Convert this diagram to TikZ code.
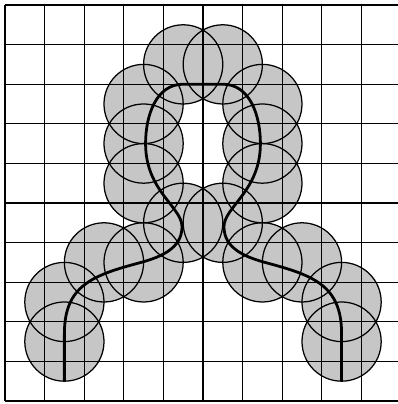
\documentclass[tikz,border=0pt]{standalone}
\begin{document}
\def\discs{4.5/8.5,5.5/8.5,3.5/7.5,3.5/6.5,3.5/5.5,6.5/7.5,6.5/6.5,6.5/5.5,4.5/4.5,5.5/4.5,2.5/3.5,3.5/3.5,6.5/3.5,7.5/3.5,1.5/2.5,1.5/1.5,8.5/2.5,8.5/1.5}
\begin{tikzpicture}[scale=1]
    \clip (-0.126,-0.076) rectangle (9.92,10.126);
    % 圆盘填充
    \foreach \x/\y in \discs
        \fill[gray!45] (\x,\y) circle (1);

    % 网格
    \draw[line width=0.8pt] (0,0) grid (10,10);

    % 圆的轮廓
    \foreach \x/\y in \discs
        \draw[line width=0.9pt] (\x,\y) circle (1);

    % 中心路径
    \draw[line width=2pt]
        (1.5,0.5) -- (1.5,1.7)
        to[out=90,in=195,looseness=1.2] (3.4,3.49)
        to[out=15,in=-90] (4.47,4.4)
        .. controls (4.47,4.9) and (3.55,5.3) .. (3.55,6.5)
        to[out=90,in=180] (4.5,8) -- (5.5,8)
        to[out=0,in=90] (6.45,6.5)
        .. controls (6.45,5.3) and (5.53,4.9) .. (5.53,4.4)
        to[out=-90,in=165] (6.6,3.49)
        to[out=-15,in=90,looseness=1.2] (8.5,1.7) -- (8.5,0.5);

\end{tikzpicture}
\end{document}
